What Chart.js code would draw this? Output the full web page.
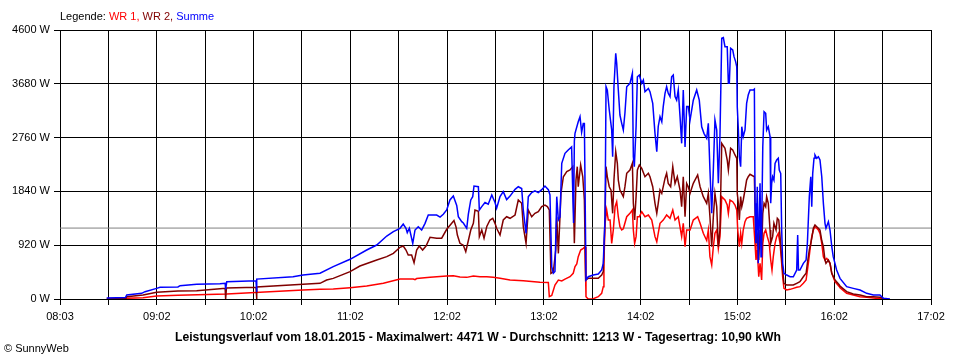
<!DOCTYPE html>
<html>
<head>
<meta charset="utf-8">
<script src="https://cdn.jsdelivr.net/npm/chart.js@4.4.1/dist/chart.umd.min.js"></script>
<style>
  html, body { margin: 0; padding: 0; background: #fff; }
  #wrap { position: relative; width: 960px; height: 360px; overflow: hidden; font-family: "Liberation Sans", Arial, sans-serif; }
  #c { position: absolute; left: 0; top: 0; }
  .txt { position: absolute; white-space: nowrap; font-size: 11px; line-height: 13px; color: #000; }
  #legend { left: 60px; top: 10px; }
  #title { left: 175px; top: 330px; font-weight: bold; font-size: 12.2px; line-height: 14px; }
  #copy { left: 4px; top: 342px; }
</style>
</head>
<body>
<div id="wrap">
  <canvas id="c" width="960" height="360"></canvas>
  <div id="legend" class="txt">Legende: <span style="color:#ff0000">WR 1,</span> <span style="color:#800000">WR 2,</span> <span style="color:#0000ff">Summe</span></div>
  <div id="title" class="txt">Leistungsverlauf vom 18.01.2015 - Maximalwert: 4471 W - Durchschnitt: 1213 W - Tagesertrag: 10,90 kWh</div>
  <div id="copy" class="txt">© SunnyWeb</div>
</div>
<script>
// ---- Data (time in minutes since midnight, power in W) ----
const xTickLabels = ["08:03","09:02","10:02","11:02","12:02","13:02","14:02","15:02","16:02","17:02"];
const xStart = 483, xEnd = 1022;
const yTickValues = [0, 920, 1840, 2760, 3680, 4600];
const averageW = 1213;

const sumTimes = [511.9,523.5,524.3,533.6,535.6,542.8,544.9,556.0,557.3,567.6,582.0,585.2,585.5,586.2,604.3,604.6,604.9,627.2,633.4,643.9,652.1,662.5,672.8,679.0,685.2,689.3,693.4,695.4,697.1,697.9,699.2,701.3,702.7,704.7,706.8,708.9,710.9,716.1,718.2,720.2,722.3,724.3,726.4,728.5,729.5,731.6,732.6,734.7,735.7,737.2,738.4,739.2,741.9,742.5,744.0,746.0,748.0,750.2,752.2,753.2,755.3,757.3,759.4,761.5,764.6,766.6,768.7,769.7,771.4,772.8,774.9,776.9,779.0,781.1,783.1,785.2,786.2,787.3,788.3,789.3,790.4,791.4,792.4,793.5,795.5,797.5,799.6,800.8,801.3,801.7,803.7,804.8,805.8,806.8,807.5,808.5,809.9,813.0,816.1,818.2,819.2,820.3,820.9,821.7,822.9,824.4,825.0,825.8,826.9,827.5,828.5,829.5,830.6,831.6,832.6,833.7,835.7,837.2,837.8,838.4,839.5,840.3,841.5,843.0,844.0,845.0,847.1,848.1,849.8,851.2,852.3,853.2,854.3,855.4,856.3,857.4,858.4,859.4,860.5,861.5,862.5,863.6,864.6,865.6,866.7,867.7,868.7,869.8,870.8,871.8,872.9,874.9,877.0,878.6,880.1,881.5,883.2,884.2,885.2,886.3,887.3,888.3,889.4,890.4,891.4,892.5,893.5,894.5,895.9,896.6,897.2,898.0,899.3,900.1,901.1,901.8,902.1,902.8,903.4,904.2,904.9,905.8,906.9,907.9,908.9,910.0,912.0,912.7,913.1,913.7,914.5,915.1,916.2,916.8,917.2,917.9,918.7,919.7,920.3,921.3,922.4,922.8,923.4,924.0,924.8,925.5,926.5,927.5,928.1,929.0,929.6,930.2,931.0,932.7,934.8,936.8,938.9,939.5,940.0,940.9,943.0,944.7,945.5,946.7,947.6,948.2,948.8,949.6,950.2,951.3,952.3,953.3,954.4,955.4,956.4,957.0,958.5,959.5,960.6,961.5,963.6,965.3,965.7,969.8,973.9,978.1,982.2,986.3,990.4,992.5,996.6];
const sumValues = [15,25,68,97,125,182,200,205,227,251,262,270,165,296,310,120,340,381,410,440,553,679,838,923,1077,1151,1209,1282,1209,1134,1209,952,1180,1236,1180,1294,1436,1436,1400,1450,1522,1693,1761,1600,1407,1322,1300,1209,1450,1693,1750,1932,1920,1522,1580,1650,1620,1778,1650,1551,1750,1835,1700,1760,1876,1920,1890,1522,1123,1750,1820,1850,1820,1870,1932,1870,1780,553,440,470,1750,1351,1400,2320,2491,2548,2600,1300,2700,2833,3032,3118,2850,3000,3000,325,381,410,427,496,610,1407,3630,3570,3232,2890,2433,3630,4201,4030,3574,3146,3004,2890,3180,3630,3688,3859,2433,2263,2950,3800,3830,3688,3745,3545,3600,3545,3346,2833,2519,2950,3118,3030,3290,3517,3630,3517,3460,3801,3830,3460,3400,3574,3118,2662,3574,2600,3290,3290,3060,3400,3574,3400,2946,2833,2748,3004,2210,1465,2210,3061,2890,1978,2780,4458,4471,4315,4315,3688,3688,4287,4258,4144,4060,3972,3290,2890,2433,2263,2946,2776,2890,3346,3488,3574,3574,3590,1636,952,1920,610,1978,724,1180,2605,3203,3175,2890,2946,2776,1636,1978,2091,2034,2320,2377,2406,2206,2149,1180,610,440,410,381,381,496,1094,496,496,610,667,952,1750,2091,1579,2149,2406,2462,2406,2434,2377,2091,1636,1294,1209,1322,1180,894,724,496,381,353,211,182,154,97,68,68,12,0];

const wr2Times = [511.9,523.8,524.3,534.4,542.8,556.0,567.6,582.0,585.2,585.5,586.0,604.3,604.6,604.9,633.4,643.9,648.0,652.1,662.5,668.6,679.0,685.2,689.3,693.4,695.4,697.1,698.5,700.6,702.1,703.7,705.3,707.4,709.5,712.0,716.1,719.2,722.3,725.4,726.8,728.1,728.9,730.5,732.6,734.1,735.7,737.2,738.8,739.8,741.9,742.5,744.0,745.4,747.1,749.1,750.8,752.2,753.2,755.3,757.3,759.4,761.5,764.6,766.6,768.7,769.7,771.4,772.8,774.9,776.9,779.0,781.1,783.1,784.6,785.8,786.8,788.3,789.8,790.4,791.4,792.4,793.0,794.5,796.6,798.6,800.3,801.3,802.3,803.1,803.7,805.2,806.5,807.5,808.3,809.9,816.1,818.2,819.2,820.3,820.9,821.7,822.9,824.0,825.0,825.8,826.9,827.9,828.5,829.5,830.6,831.6,832.6,833.7,835.7,837.2,837.8,838.6,839.5,840.3,841.5,843.0,845.0,847.1,848.1,849.8,851.2,852.3,853.2,854.3,855.4,857.4,858.4,859.4,860.9,862.2,863.6,865.0,866.7,867.7,868.7,869.8,870.8,871.8,872.9,874.9,877.6,879.1,881.1,883.2,884.2,885.2,886.3,887.3,888.3,889.4,890.4,891.4,892.5,894.5,895.9,896.6,898.0,899.3,900.7,901.8,902.1,902.8,903.4,904.2,904.9,905.8,906.9,907.9,908.9,910.0,912.7,913.3,913.7,914.5,915.4,916.2,917.2,917.9,918.7,919.7,920.3,921.3,922.4,922.8,924.0,924.8,926.1,926.9,927.8,928.6,929.2,930.2,931.0,932.7,936.8,938.9,940.9,943.0,944.7,945.5,946.7,947.6,948.4,949.2,950.2,951.3,952.3,953.3,954.4,955.4,956.4,957.0,958.5,959.5,960.6,962.6,965.3,965.7,969.8,973.9,978.1,982.2,986.3,990.4,993.5];
const wr2Values = [8,10,40,68,114,137,140,175,182,0,190,200,0,205,251,268,325,353,467,564,667,724,781,884,906,838,752,752,621,838,906,838,906,1055,1040,1040,1192,1294,1340,1230,1094,952,920,809,1000,1180,1294,1522,1500,1066,1180,1040,1240,1351,1380,1294,1209,1094,1351,1407,1380,1436,1693,1636,1236,952,1522,1407,1465,1493,1580,1607,1580,1522,440,467,838,1407,780,1407,1807,2091,2177,2206,2263,952,2034,2263,1920,2291,2091,1693,325,353,353,410,467,1407,2263,2090,1920,1860,1465,2034,2519,2320,2034,1864,1807,1750,1920,2149,2206,2320,1636,1351,1750,2206,2291,2234,2091,2149,2091,1920,1636,1465,1636,1864,1807,2062,2149,1977,1920,2263,1977,2091,1864,1579,2091,1407,1977,1920,1807,1977,2120,1920,1750,1636,1807,1407,894,1407,1807,1579,894,1180,2662,2577,2377,2206,2577,2548,2463,2406,1807,1636,1351,1750,1579,1693,1864,2034,2091,2132,2091,1294,952,1066,667,1180,838,1465,1636,1579,1750,1636,1180,952,1066,1294,1180,1380,1351,1066,838,496,268,239,239,268,296,381,440,610,838,952,1066,1209,1265,1236,1209,1180,1000,894,667,610,667,610,440,325,239,220,125,85,68,40,40,30,0];

const wr1Times = [523.8,524.3,534.4,542.8,556.0,586.2,606.8,633.4,643.9,652.1,662.5,672.8,683.1,693.4,701.6,702.7,703.7,712.0,722.3,726.4,730.5,734.7,738.8,742.9,747.1,751.1,755.3,761.5,769.7,780.0,785.2,785.8,787.3,789.3,791.4,793.5,795.5,798.6,800.6,801.7,802.8,803.7,805.2,806.8,807.9,808.5,809.9,813.0,816.1,818.2,819.2,819.6,820.3,821.3,822.3,823.4,824.4,825.4,826.5,827.5,828.5,829.5,830.6,831.6,833.7,835.7,837.2,837.8,838.6,839.5,840.3,841.5,843.0,845.0,847.1,849.2,851.2,852.3,853.2,854.3,856.3,858.4,860.5,862.2,863.6,865.6,867.7,868.7,869.8,870.8,872.9,874.9,877.6,879.1,881.1,883.2,884.2,885.2,886.3,887.3,888.3,889.4,890.4,891.4,892.5,894.5,895.9,896.6,897.6,899.3,900.7,901.8,902.4,903.4,904.2,904.9,905.8,906.9,907.9,910.0,912.0,913.1,913.7,914.5,915.4,916.2,917.2,917.9,918.7,919.7,920.7,921.9,922.8,923.6,924.4,925.5,926.5,927.5,928.6,929.6,930.2,931.0,932.7,934.8,936.8,938.9,940.9,943.0,944.7,946.1,947.1,948.2,949.2,950.2,951.3,952.3,953.3,954.4,955.4,956.4,957.5,959.5,960.6,962.6,965.3,965.7,969.8,973.9,978.1,982.2,986.3,992.5];
const wr1Values = [0,12,22,51,63,85,114,154,165,171,194,222,268,342,342,330,350,370,393,398,376,370,393,382,382,370,353,325,310,285,282,40,60,239,325,310,340,381,440,553,600,724,838,866,894,40,0,5,40,97,211,610,1294,1522,1350,1350,952,1180,1579,1664,1407,1236,1180,1200,1407,1465,1522,1180,952,1066,1407,1407,1493,1407,1436,1350,1066,980,1123,1294,1350,1436,1380,1522,1350,1407,1066,1294,894,1180,1180,1350,1407,1294,1123,1000,1180,724,581,894,1123,1180,867,1066,1750,1693,1607,1465,1693,1664,1607,1522,1180,894,1123,952,1180,1322,1380,1407,1407,952,667,838,381,610,325,952,1123,1180,1066,952,667,496,724,952,1066,1123,952,610,381,182,154,165,182,200,211,268,325,610,838,1066,1180,1236,1209,1180,1123,952,724,667,695,610,440,296,211,190,97,68,40,28,17,0];

// ---- Chart ----
function pts(ts, vs) { return ts.map((t, i) => ({ x: t, y: vs[i] })); }
const xTickValues = [];
for (let i = 0; i <= 18; i++) xTickValues.push(xStart + i * (xEnd - xStart) / 18);

const font = { family: "'Liberation Sans', Arial, sans-serif", size: 11 };

new Chart(document.getElementById('c'), {
  type: 'line',
  data: {
    datasets: [
      { label: 'Summe', data: pts(sumTimes, sumValues), borderColor: '#0000ff', borderWidth: 1.5, order: 1 },
      { label: 'WR 2', data: pts(wr2Times, wr2Values), borderColor: '#800000', borderWidth: 1.5, order: 2 },
      { label: 'WR 1', data: pts(wr1Times, wr1Values), borderColor: '#ff0000', borderWidth: 1.5, order: 3 },
      { label: 'Durchschnitt', data: [{ x: xStart, y: averageW }, { x: xEnd, y: averageW }], borderColor: '#808080', borderWidth: 1, order: 4 }
    ]
  },
  options: {
    responsive: false,
    animation: false,
    devicePixelRatio: 1,
    layout: { padding: { top: 30, right: 29, left: 0, bottom: 0 } },
    elements: { point: { radius: 0 }, line: { tension: 0, fill: false } },
    plugins: { legend: { display: false }, tooltip: { enabled: false } },
    scales: {
      x: {
        type: 'linear', min: xStart, max: xEnd,
        afterBuildTicks: s => { s.ticks = xTickValues.map(v => ({ value: v })); },
        afterFit: s => { s.height = 61; },
        grid: { color: '#000', lineWidth: 1, tickLength: 6, drawTicks: true },
        border: { display: true, color: '#000', width: 1 },
        ticks: {
          autoSkip: false, maxRotation: 0, minRotation: 0, color: '#000', font: font, padding: 5,
          callback: (v, i) => (i % 2 === 0 ? xTickLabels[i / 2] : '')
        }
      },
      y: {
        min: 0, max: 4600,
        afterBuildTicks: s => { s.ticks = yTickValues.map(v => ({ value: v })); },
        afterFit: s => { s.width = 60; },
        grid: { color: '#000', lineWidth: 1, tickLength: 6, drawTicks: true },
        border: { display: true, color: '#000', width: 1 },
        ticks: { color: '#000', font: font, padding: 4, callback: v => v + ' W' }
      }
    }
  }
});
</script>
</body>
</html>
